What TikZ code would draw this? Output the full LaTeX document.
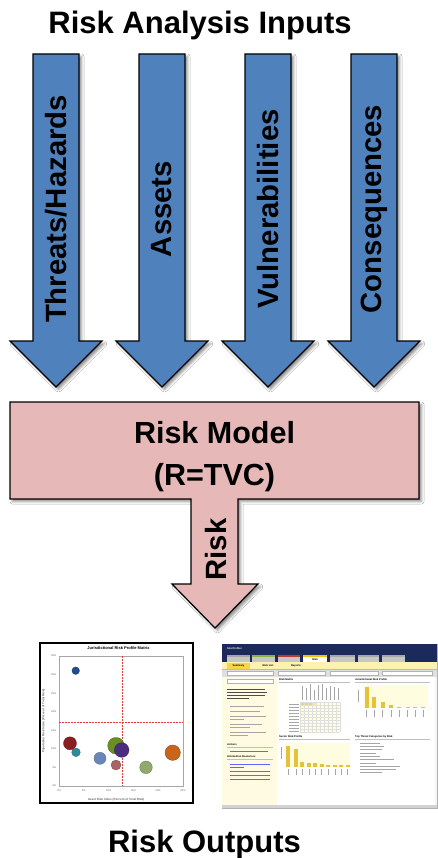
\documentclass[tikz,border=0pt]{standalone}
\usepackage{fontspec}
\setmainfont{Liberation Sans}
\usepackage{tikz}
\usetikzlibrary{shadows.blur}
\usepackage{xcolor}

\definecolor{inblue}{HTML}{4F81BD}
\definecolor{modelpink}{HTML}{E6B9B8}
\definecolor{cutred}{HTML}{E03A3A}
\definecolor{bubA}{HTML}{1F4E8C}
\definecolor{bubB}{HTML}{8B1E1E}
\definecolor{bubC}{HTML}{2E8B9A}
\definecolor{bubD}{HTML}{6A86B8}
\definecolor{bubE}{HTML}{6B8E23}
\definecolor{bubF}{HTML}{4B2C7F}
\definecolor{bubG}{HTML}{A86464}
\definecolor{bubH}{HTML}{8FAA6A}
\definecolor{bubI}{HTML}{C8651B}
\definecolor{navy}{HTML}{1B2A5A}
\definecolor{tabgreen}{HTML}{8CB43C}
\definecolor{tabred}{HTML}{C0392B}
\definecolor{tabyellow}{HTML}{F2C200}
\definecolor{subyellow}{HTML}{FFF2B0}
\definecolor{panelyellow}{HTML}{FFFBE3}
\definecolor{baryellow}{HTML}{E6C23A}

\begin{document}
\begin{tikzpicture}[x=1pt,y=-1pt,line join=miter]
  \tikzstyle{every node}=[inner sep=0pt]
  \tikzstyle{big arrow}=[draw=black,line width=1.2pt,
    blur shadow={shadow xshift=2.5pt,shadow yshift=-2.5pt,shadow blur radius=2.5pt,shadow opacity=45}]
  \tikzstyle{heading}=[font=\fontsize{31}{36}\selectfont\bfseries,anchor=base]
  \tikzstyle{model text}=[font=\fontsize{30.5}{36}\selectfont\bfseries,anchor=base]
  \tikzstyle{arrow label}=[font=\fontsize{29.3}{34}\selectfont\bfseries,rotate=90]
  \tikzstyle{ticklabel}=[font=\fontsize{2.6}{3}\selectfont,text=gray!80!black]
  \tikzstyle{axis title}=[font=\fontsize{3}{3.5}\selectfont\bfseries,text=gray!80!black]
  \tikzstyle{cut line}=[cutred,line width=1pt,dash pattern=on 2pt off 1pt]
  \tikzstyle{shot text}=[font=\fontsize{2.6}{3}\selectfont\bfseries,anchor=west]
  \tikzstyle{text line}=[gray!70,line width=0.6pt]

  \fill[white] (0,0) rectangle (437,858);
  \useasboundingbox (0,0) rectangle (437,858);

  \node[heading] (inputs) at (200,34) {Risk Analysis Inputs};

  % the four inputs
  \foreach \cx/\txt [count=\i] in {56/{Threats/Hazards},162/Assets,268/Vulnerabilities,374/Consequences} {
    \draw[big arrow,fill=inblue] (\cx-23,54) -- (\cx+23,54) -- (\cx+23,341) -- (\cx+46,341)
      -- (\cx,387) -- (\cx-46,341) -- (\cx-23,341) -- cycle;
    \node[arrow label] (in_\i) at (\cx,209) {\txt};
  }

  % model box with the risk arrow
  \draw[big arrow,fill=modelpink] (10,402) -- (419,402) -- (419,499) -- (238,499) -- (238,584)
    -- (258,584) -- (215,628) -- (172,584) -- (191,584) -- (191,499) -- (10,499) -- cycle;
  \node[model text] (model) at (214.5,443) {Risk Model};
  \node[model text] (tvc) at (214.5,485) {(R=TVC)};
  \node[arrow label] (risk) at (216,549.5) {Risk};

  % bubble chart
  \draw[line width=1.8pt,fill=white] (40,643) rectangle (193,803);
  \node[font=\fontsize{4}{5}\selectfont\bfseries] (matrix) at (118.5,648.3) {Jurisdictional Risk Profile Matrix};
  \draw[gray!70,line width=0.5pt] (59,656) rectangle (183,786);
  \foreach \v [count=\k from 0] in {35,30,25,20,15,10,5,0}
    \node[ticklabel,anchor=east] at (56.5,656+\k*18.571) {\v\%};
  \foreach \v [count=\k from 0] in {0,5,10,15,20,25}
    \node[ticklabel] at (59+\k*24.8,791) {\v\%};
  \node[axis title] (xtitle) at (116,799.5) {Asset Risk Index (Percent of Total Risk)};
  \node[axis title,rotate=90] (ytitle) at (43.5,721) {Population Risk Index (Percent of Total Risk)};
  \draw[cut line] (122,656) -- (122,786);
  \draw[cut line] (59,722) -- (183,722);
  \foreach \bx/\by/\br/\bc in {75.7/670.7/3.8/bubA,70/743.3/6.5/bubB,76/752.3/4.3/bubC,
      100/758.3/6/bubD,116/745.7/8.3/bubE,121.7/750/7.3/bubF,116/765/5/bubG,
      146/767.3/6.3/bubH,172.7/752.7/7.7/bubI}
    \fill[\bc,draw=\bc!70!black,line width=0.3pt] (\bx,\by) circle (\br pt);

  % screenshot of the tool
  \draw[gray!60,fill=gray!8] (222,644) rectangle (437,808);
  \fill[navy] (222,644) rectangle (437,662);
  \node[shot text,text=white] (site) at (227,648.5) {Site Profiler};
  \foreach \xa/\xb/\tc in {227/250/gray!70,252/275/tabgreen,278/300/tabred,330/355/gray!70,358/379/gray!70,382/405/gray!70} {
    \fill[gray!45] (\xa,655) rectangle (\xb,662);
    \fill[\tc] (\xa,655) rectangle (\xb,656.5);
  }
  \fill[white] (303,655) rectangle (327,662);
  \fill[tabyellow] (303,655) rectangle (327,656.5);
  \node[shot text,anchor=center] at (315,659.2) {Risk};
  \fill[subyellow] (222,662) rectangle (437,669);
  \fill[tabyellow!70] (227,662.5) rectangle (250,669);
  \draw[tabyellow,line width=0.6pt] (222,669) -- (437,669);
  \node[shot text,anchor=center] at (238.5,665.8) {Summary};
  \node[shot text,anchor=center] at (268,665.8) {Risk List};
  \node[shot text,anchor=center] at (296,665.8) {Reports};
  \fill[gray!25] (222,669.5) rectangle (437,677);
  \foreach \xa/\xb in {227/273,278/325,330/378,382/432}
    \draw[gray!60,fill=white,line width=0.3pt] (\xa,671) rectangle (\xb,675.5);

  % left panel
  \fill[panelyellow] (222,677) rectangle (277,805);
  \draw[gray!60,fill=white,line width=0.3pt] (227,679) rectangle (273,683);
  \foreach \ly/\lw in {689/38,692/40,695/38,698.5/22}
    \draw[black!70,line width=0.7pt] (227,\ly) -- (227+\lw,\ly);
  \foreach \ly/\lw in {706/34,711/30,716/36,719/14,724/32,727/20,732/36,735/18}
    \draw[text line] (230,\ly) -- (230+\lw,\ly);
  \node[shot text] at (227,745) {Actions};
  \draw[gray!50,line width=0.3pt] (227,747) -- (273,747);
  \draw[blue!60,line width=0.6pt] (230,751) -- (268,751);
  \node[shot text] at (227,757) {Information Resources};
  \draw[gray!50,line width=0.3pt] (227,759) -- (273,759);
  \foreach \ly/\lw in {764/40,767/14,771/40,775/40,779/40}
    \draw[blue!60,line width=0.6pt] (230,\ly) -- (230+\lw,\ly);

  % main area
  \fill[white] (277,677) rectangle (435,805);
  \node[shot text] (matrixpanel) at (279,680) {Risk Matrix};
  \draw[gray!50,line width=0.3pt] (279,682) -- (350,682);
  \foreach \cx/\ch in {302/14,306/12,310/16,314/10,318/15,322/16,326/12,330/14,334/13,338/12}
    \draw[text line,line width=0.5pt] (\cx,700) -- (\cx,700-\ch);
  \foreach \ry in {704,707,710,713,716,719,722,725,728,731}
    \draw[text line,line width=0.5pt] (289,\ry) -- (299,\ry);
  \fill[yellow!12] (300,702) rectangle (340,732);
  \fill[baryellow!70] (300,702) rectangle (312,706);
  \fill[baryellow!40] (312,702) rectangle (316,706);
  \foreach \gx in {300,304,...,340} \draw[gray!25,line width=0.2pt] (\gx,702) -- (\gx,732);
  \foreach \gy in {702,705,...,732} \draw[gray!25,line width=0.2pt] (300,\gy) -- (340,\gy);

  \node[shot text] (jurpanel) at (355,680) {Jurisdictional Risk Profile};
  \draw[gray!50,line width=0.3pt] (355,682) -- (430,682);
  \fill[yellow!12] (363,685) rectangle (428,708.3);
  \foreach \bx/\bt in {366.7/686.7,374.3/696.7,382.7/701.7,391/705,399/707.3,407.7/707.3,415/707.3,423.3/707.3} {
    \fill[baryellow] (\bx-2,\bt) rectangle (\bx+2,708.3);
    \draw[text line,line width=0.5pt] (\bx,710) -- (\bx,717);
  }
  \draw[text line,line width=0.5pt] (358,690) -- (358,702);

  \node[shot text] (sectorpanel) at (279,737) {Sector Risk Profile};
  \draw[gray!50,line width=0.3pt] (279,739) -- (350,739);
  \fill[yellow!12] (285,743) rectangle (350,766.7);
  \foreach \bx/\bt in {288.3/746,296/749.3,302.3/761.7,309.3/763.3,315/763.3,321.7/764.3,328.3/765,335/765,341/765,347.7/765} {
    \fill[baryellow] (\bx-2,\bt) rectangle (\bx+2,766.7);
    \draw[text line,line width=0.5pt] (\bx,768.5) -- (\bx,775);
  }
  \draw[text line,line width=0.5pt] (281,747) -- (281,759);

  \node[shot text] (threatpanel) at (355,737) {Top Threat Categories by Risk};
  \draw[gray!50,line width=0.3pt] (355,739) -- (430,739);
  \foreach \ly/\lw in {743/20,746.3/24,749.6/22,752.9/16,756.2/20,759.5/34,762.8/16,766.1/40,769.4/36,772.7/22}
    \draw[text line,line width=0.5pt] (360,\ly) -- (360+\lw,\ly);

  \fill[gray!35] (222,805) rectangle (437,808);

  \node[heading] (outputs) at (204.5,852) {Risk Outputs};
\end{tikzpicture}
\end{document}
